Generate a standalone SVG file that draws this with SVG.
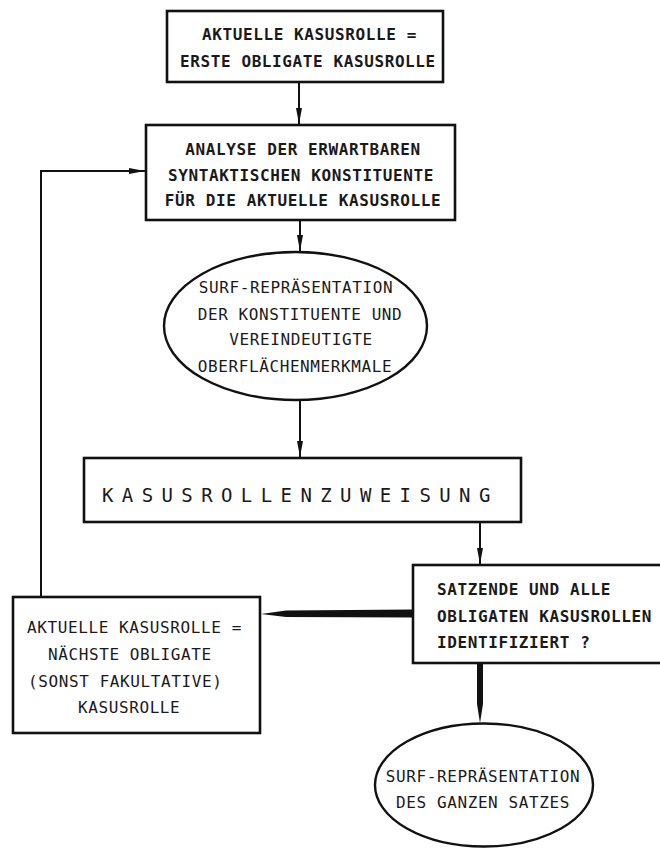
<svg xmlns="http://www.w3.org/2000/svg" width="660" height="848" viewBox="0 0 660 848">
  <style>
    .box { fill: #fff; stroke: #111; stroke-width: 2.6; }
    .oval { fill: #fff; stroke: #111; stroke-width: 2.4; }
    .t { font-family: "DejaVu Sans Mono", "Liberation Mono", monospace; font-size: 16px; letter-spacing: 0.6px; fill: #1a1a1a; }
    .b { font-weight: bold; }
    .c { text-anchor: middle; }
    .wide { font-size: 19px; letter-spacing: 8.4px; }
    .line { fill: none; stroke: #111; stroke-width: 2; }
    .thick { fill: #111; stroke: none; }
  </style>
  <defs>
    <marker id="arrow" viewBox="0 0 16 8" refX="16" refY="4" markerWidth="16" markerHeight="8" markerUnits="userSpaceOnUse" orient="auto">
      <path d="M0,1 L16,4 L0,7 Z" fill="#111"/>
    </marker>
  </defs>

  <!-- connectors -->
  <g id="connectors">
    <line class="line" x1="299" y1="82" x2="299" y2="124" marker-end="url(#arrow)"/>
    <line class="line" x1="300" y1="220" x2="300" y2="251" marker-end="url(#arrow)"/>
    <line class="line" x1="300" y1="400" x2="300" y2="457" marker-end="url(#arrow)"/>
    <line class="line" x1="480" y1="522" x2="480" y2="564" marker-end="url(#arrow)"/>
    <!-- loop back to the analysis step -->
    <polyline class="line" points="41,597 41,171 145,171" marker-end="url(#arrow)"/>
    <!-- heavy arrows out of the decision box -->
    <polygon class="thick" points="413,609.5 286,610.5 261,614 286,617 413,617.5"/>
    <polygon class="thick" points="477,663 483,663 483,704 480,723 477,704"/>
  </g>

  <g id="start">
    <rect class="box" x="167" y="11" width="276" height="71"/>
    <text class="t b" x="202" y="40">AKTUELLE KASUSROLLE =</text>
    <text class="t b" x="180" y="67">ERSTE OBLIGATE KASUSROLLE</text>
  </g>

  <g id="analyse">
    <rect class="box" x="146" y="125" width="309" height="95"/>
    <text class="t b c" x="303" y="155">ANALYSE DER ERWARTBAREN</text>
    <text class="t b c" x="301" y="181">SYNTAKTISCHEN KONSTITUENTE</text>
    <text class="t b c" x="303" y="206">FÜR DIE AKTUELLE KASUSROLLE</text>
  </g>

  <g id="surf-konstituente">
    <ellipse class="oval" cx="295.5" cy="326" rx="131.5" ry="74"/>
    <text class="t c" x="296" y="293">SURF-REPRÄSENTATION</text>
    <text class="t c" x="300" y="320">DER KONSTITUENTE UND</text>
    <text class="t c" x="301" y="345">VEREINDEUTIGTE</text>
    <text class="t c" x="295" y="372">OBERFLÄCHENMERKMALE</text>
  </g>

  <g id="zuweisung">
    <rect class="box" x="84" y="458" width="437" height="64"/>
    <text class="t wide" x="102" y="502">KASUSROLLENZUWEISUNG</text>
  </g>

  <g id="pruefung">
    <rect class="box" x="413" y="565" width="262" height="98"/>
    <text class="t b" x="437" y="595">SATZENDE UND ALLE</text>
    <text class="t b" x="437" y="622">OBLIGATEN KASUSROLLEN</text>
    <text class="t b" x="437" y="648">IDENTIFIZIERT ?</text>
  </g>

  <g id="naechste">
    <rect class="box" x="13" y="597" width="247" height="136"/>
    <text class="t" x="27" y="633">AKTUELLE KASUSROLLE =</text>
    <text class="t" x="48" y="660">NÄCHSTE OBLIGATE</text>
    <text class="t" x="28" y="687">(SONST FAKULTATIVE)</text>
    <text class="t" x="78" y="713">KASUSROLLE</text>
  </g>

  <g id="surf-satz">
    <ellipse class="oval" cx="484" cy="785" rx="109" ry="61.5"/>
    <text class="t c" x="483" y="782">SURF-REPRÄSENTATION</text>
    <text class="t c" x="483" y="808">DES GANZEN SATZES</text>
  </g>
</svg>
